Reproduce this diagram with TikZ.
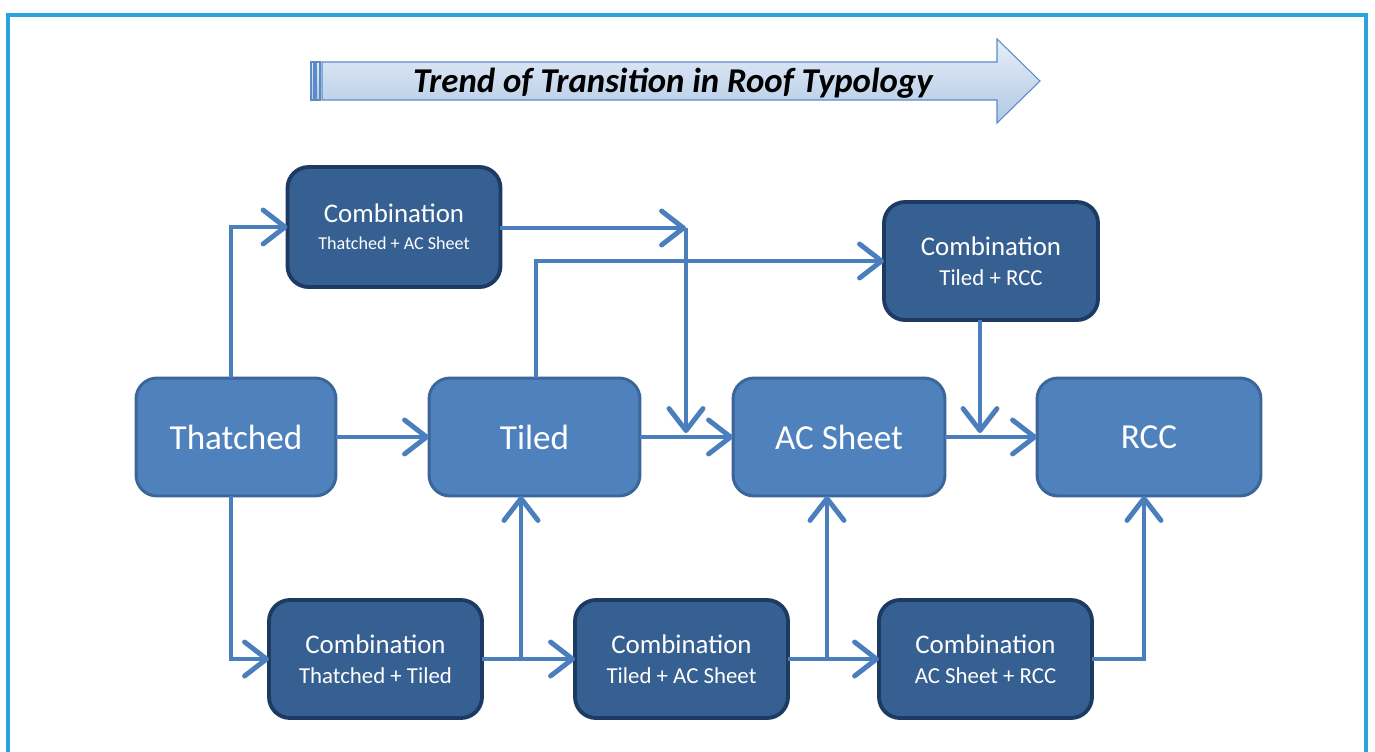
\documentclass[tikz,border=0pt]{standalone}
\usepackage{fontspec}
\setmainfont{Carlito}
\usetikzlibrary{arrows.meta,calc}
\definecolor{lightF}{HTML}{4F81BD}
\definecolor{lightB}{HTML}{3A6698}
\definecolor{darkF}{HTML}{376092}
\definecolor{darkB}{HTML}{1D3A63}
\definecolor{connC}{HTML}{4A7EBD}
\definecolor{frameC}{HTML}{2AA3DD}
\definecolor{titleTop}{HTML}{E6EEF8}
\definecolor{titleBot}{HTML}{B1C8E5}
\definecolor{titleB}{HTML}{5B8CC6}
\tikzset{
  light/.style={draw=lightB, fill=lightF, line width=1.7pt, rounded corners=0.42cm,
    minimum height=2.36cm, text=white, font=\fontsize{20}{24}\selectfont, inner sep=0pt, outer sep=0pt},
  dark/.style={draw=darkB, fill=darkF, line width=2.2pt, rounded corners=0.42cm,
    minimum height=2.36cm, minimum width=4.26cm, text=white, align=center, inner sep=0pt, outer sep=0pt,
    font=\fontsize{13}{17}\selectfont},
  conn/.style={draw=connC, line width=2.8pt, -{Straight Barb[length=0.44cm,width=0.68cm,round]}},
  plain/.style={draw=connC, line width=2.8pt},
  titlebox/.style={draw=titleB, line width=0.6pt, top color=titleTop, bottom color=titleBot}
}
\newcommand{\combtxt}[1]{{\fontsize{15.3}{17}\selectfont Combination}\\#1}
\begin{document}
\begin{tikzpicture}[x=0.02cm,y=-0.02cm]
\useasboundingbox (0,0) rectangle (1375,751);
% frame
\draw[frameC, line width=2.3pt] (8,760) -- (8,15) -- (1366,15) -- (1366,760);
% title arrow
\path[titlebox] (311,62) rectangle (314,100);
\path[titlebox] (316,62) rectangle (320,100);
\path[titlebox] (322,62) -- (997,62) -- (997,39) -- (1040,81) -- (997,123) -- (997,100) -- (322,100) -- cycle;
\node[font=\fontsize{19.8}{23}\selectfont\bfseries\itshape, text=black] (title) at (673,83) {Trend of Transition in Roof Typology};
% main nodes
\node[light, minimum width=4.0cm] (th) at (236,437) {Thatched};
\node[light, minimum width=4.22cm] (ti) at (534.5,437) {Tiled};
\node[light, minimum width=4.24cm] (ac) at (839,437) {AC Sheet};
\node[light, minimum width=4.48cm] (rcc) at (1149,437) {RCC};
% combination nodes
\node[dark, minimum height=2.4cm, font=\fontsize{10.3}{15.3}\selectfont] (cta) at (394,227) {\combtxt{Thatched + AC Sheet}};
\node[dark, minimum width=4.28cm] (ctr) at (991,261) {\combtxt{Tiled + RCC}};
\node[dark] (ctt) at (375.5,659) {\combtxt{Thatched + Tiled}};
\node[dark] (cta2) at (681.5,659) {\combtxt{Tiled + AC Sheet}};
\node[dark] (car) at (985.5,659) {\combtxt{AC Sheet + RCC}};
% junction coordinates
\coordinate (j1) at (686,228);
\coordinate (j2) at (686,437);
\coordinate (j3) at (980,437);
\coordinate (j4) at (521,659);
\coordinate (j5) at (827,659);
\coordinate (j6) at (1144,659);
% connectors
\draw[conn] ([xshift=-0.1cm]th.north) |- (cta.west);
\draw[conn] (th) -- (ti);
\draw[conn] ([xshift=-0.1cm]th.south) |- (ctt.west);
\draw[conn] (cta.east |- j1) -- (j1);
\draw[conn] (j1) -- ([yshift=0.08cm]j2);
\draw[conn] (ti) -- (ac);
\draw[conn] ([xshift=0.03cm]ti.north) |- (ctr.west);
\draw[conn] (ctr.south -| j3) -- ([yshift=0.08cm]j3);
\draw[conn] (ac) -- (rcc);
\draw[conn] (ctt) -- (cta2);
\draw[conn] (j4) -- (j4 |- ti.south);
\draw[conn] (cta2) -- (car);
\draw[conn] (j5) -- (j5 |- ac.south);
\draw[plain] (car.east) -- (j6);
\draw[conn] ([yshift=-1.4pt]j6) -- (j6 |- rcc.south);
\end{tikzpicture}
\end{document}
